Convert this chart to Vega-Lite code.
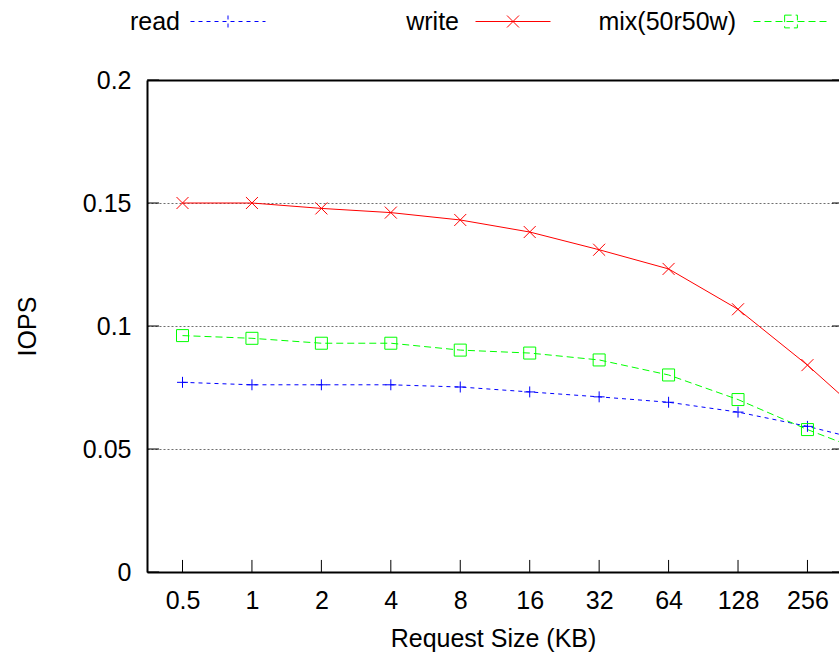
{
  "$schema": "https://vega.github.io/schema/vega-lite/v6.json",
  "width": 692,
  "height": 492,
  "autosize": {"type": "none"},
  "padding": {"left": 147, "top": 80, "right": 0, "bottom": 83},
  "background": "white",
  "config": {
    "font": "Liberation Sans",
    "view": {"stroke": null},
    "legend": {
      "orient": "none",
      "legendY": -96.5,
      "direction": "horizontal",
      "title": null,
      "labelFont": "Liberation Sans",
      "labelFontSize": 25,
      "labelColor": "black",
      "labelAlign": "right",
      "labelBaseline": "middle",
      "labelLimit": 400,
      "symbolSize": 5625,
      "symbolStrokeWidth": 1,
      "symbolFillColor": "transparent",
      "symbolOffset": 0,
      "padding": 0
    }
  },
  "datasets": {
    "iops": [
      {"series": "read", "size": 0.5, "iops": 0.0771},
      {"series": "read", "size": 1, "iops": 0.0761},
      {"series": "read", "size": 2, "iops": 0.0761},
      {"series": "read", "size": 4, "iops": 0.0761},
      {"series": "read", "size": 8, "iops": 0.0752},
      {"series": "read", "size": 16, "iops": 0.0732},
      {"series": "read", "size": 32, "iops": 0.0712},
      {"series": "read", "size": 64, "iops": 0.069},
      {"series": "read", "size": 128, "iops": 0.065},
      {"series": "read", "size": 256, "iops": 0.0592},
      {"series": "read", "size": 512, "iops": 0.0522},
      {"series": "write", "size": 0.5, "iops": 0.15},
      {"series": "write", "size": 1, "iops": 0.15},
      {"series": "write", "size": 2, "iops": 0.1478},
      {"series": "write", "size": 4, "iops": 0.1461},
      {"series": "write", "size": 8, "iops": 0.1431},
      {"series": "write", "size": 16, "iops": 0.1382},
      {"series": "write", "size": 32, "iops": 0.131},
      {"series": "write", "size": 64, "iops": 0.1232},
      {"series": "write", "size": 128, "iops": 0.1068},
      {"series": "write", "size": 256, "iops": 0.0841},
      {"series": "write", "size": 512, "iops": 0.0588},
      {"series": "mix(50r50w)", "size": 0.5, "iops": 0.0961},
      {"series": "mix(50r50w)", "size": 1, "iops": 0.095},
      {"series": "mix(50r50w)", "size": 2, "iops": 0.093},
      {"series": "mix(50r50w)", "size": 4, "iops": 0.093},
      {"series": "mix(50r50w)", "size": 8, "iops": 0.0902},
      {"series": "mix(50r50w)", "size": 16, "iops": 0.089},
      {"series": "mix(50r50w)", "size": 32, "iops": 0.0862},
      {"series": "mix(50r50w)", "size": 64, "iops": 0.0801},
      {"series": "mix(50r50w)", "size": 128, "iops": 0.0701},
      {"series": "mix(50r50w)", "size": 256, "iops": 0.0579},
      {"series": "mix(50r50w)", "size": 512, "iops": 0.0471}
    ],
    "yticks": [
      {"tick": 0}, {"tick": 0.05}, {"tick": 0.1}, {"tick": 0.15}, {"tick": 0.2}
    ]
  },
  "data": {"name": "iops"},
  "layer": [
    {
      "data": {"name": "yticks"},
      "mark": {"type": "rule", "strokeWidth": 1, "color": "black"},
      "encoding": {
        "x": {"datum": 0.3508, "type": "quantitative", "axis": {"labels": false, "ticks": false, "domain": false, "grid": false, "title": null}},
        "x2": {"datum": 0.3957},
        "y": {"field": "tick", "type": "quantitative", "axis": {"labels": false, "ticks": false, "domain": false, "grid": false, "title": null}}
      }
    },
    {
      "data": {"name": "yticks"},
      "mark": {"type": "rule", "strokeWidth": 1, "color": "black"},
      "encoding": {
        "x": {"datum": 327.0, "type": "quantitative", "axis": {"labels": false, "ticks": false, "domain": false, "grid": false, "title": null}},
        "x2": {"datum": 350.7},
        "y": {"field": "tick", "type": "quantitative", "axis": {"labels": false, "ticks": false, "domain": false, "grid": false, "title": null}}
      }
    },
    {
      "transform": [
        {"filter": {"field": "series", "equal": "read"}},
        {"filter": {"field": "size", "lte": 256}}
      ],
      "mark": {"type": "rule", "strokeWidth": 1, "color": "black"},
      "encoding": {
        "x": {"field": "size", "type": "quantitative", "axis": {"labels": false, "ticks": false, "domain": false, "grid": false, "title": null}},
        "y": {"datum": 0, "type": "quantitative", "axis": {"labels": false, "ticks": false, "domain": false, "grid": false, "title": null}},
        "y2": {"datum": 0.0049}
      }
    },
    {
      "transform": [{"filter": {"field": "series", "equal": "read"}}],
      "mark": {"type": "line", "clip": true, "strokeWidth": 1, "strokeDash": [4, 4]},
      "encoding": {
        "x": {
          "field": "size", "type": "quantitative",
          "scale": {"type": "log", "base": 2, "domain": [0.3508, 350.7], "nice": false},
          "axis": {
            "orient": "bottom",
            "values": [0.5, 1, 2, 4, 8, 16, 32, 64, 128, 256],
            "format": "~g",
            "labelFont": "Liberation Sans",
            "labelFontSize": 25,
            "labelColor": "black",
            "labelFlush": false,
            "labelOverlap": false,
            "labelBound": false,
            "labelBaseline": "alphabetic",
            "labelPadding": 36.5,
            "ticks": false,
            "domainColor": "black",
            "domainWidth": 2,
            "grid": false,
            "title": "Request Size (KB)",
            "titleFont": "Liberation Sans",
            "titleFontSize": 25,
            "titleFontWeight": "normal",
            "titleColor": "black",
            "titleBaseline": "alphabetic",
            "titleY": 74
          }
        },
        "y": {
          "field": "iops", "type": "quantitative",
          "scale": {"domain": [0, 0.2], "nice": false},
          "axis": {
            "orient": "left",
            "values": [0, 0.05, 0.1, 0.15, 0.2],
            "format": "~g",
            "labelFont": "Liberation Sans",
            "labelFontSize": 25,
            "labelColor": "black",
            "labelPadding": 16,
            "labelFlush": false,
            "labelOverlap": false,
            "labelBaseline": "middle",
            "ticks": false,
            "domainColor": "black",
            "domainWidth": 2,
            "grid": true,
            "gridColor": "#6e6e6e",
            "gridDash": [2, 2],
            "gridWidth": 1,
            "title": "IOPS",
            "titleFont": "Liberation Sans",
            "titleFontSize": 25,
            "titleFontWeight": "normal",
            "titleColor": "black",
            "titleAngle": 270,
            "titleBaseline": "alphabetic",
            "titleAlign": "center",
            "titleX": -112,
            "titleY": 246
          }
        },
        "color": {
          "field": "series", "type": "nominal",
          "scale": {"domain": ["read", "write", "mix(50r50w)"], "range": ["#0000ff", "#ff0000", "#00ff00"]},
          "legend": {
            "values": ["read"],
            "legendX": 43,
            "labelOffset": -86,
            "symbolType": "M-1,0H1M0,-0.16V0.16",
            "symbolDash": [4, 4]
          }
        }
      }
    },
    {
      "transform": [{"filter": {"field": "series", "equal": "write"}}],
      "mark": {"type": "line", "clip": true, "strokeWidth": 1},
      "encoding": {
        "x": {"field": "size", "type": "quantitative", "axis": null},
        "y": {"field": "iops", "type": "quantitative", "axis": null},
        "color": {
          "field": "series", "type": "nominal",
          "legend": {
            "values": ["write"],
            "legendX": 328,
            "labelOffset": -92,
            "symbolType": "M-1,0H1M-0.16,-0.16L0.16,0.16M-0.16,0.16L0.16,-0.16"
          }
        }
      }
    },
    {
      "transform": [{"filter": {"field": "series", "equal": "mix(50r50w)"}}],
      "mark": {"type": "line", "clip": true, "strokeWidth": 1, "strokeDash": [7, 4]},
      "encoding": {
        "x": {"field": "size", "type": "quantitative", "axis": null},
        "y": {"field": "iops", "type": "quantitative", "axis": null},
        "color": {
          "field": "series", "type": "nominal",
          "legend": {
            "values": ["mix(50r50w)"],
            "legendX": 606,
            "labelOffset": -93,
            "symbolType": "M-1,0H1M-0.17,-0.17H0.17V0.17H-0.17Z",
            "symbolDash": [7, 4]
          }
        }
      }
    },
    {
      "transform": [{"filter": {"field": "series", "equal": "read"}}],
      "mark": {"type": "point", "clip": true, "filled": false, "size": 120, "strokeWidth": 1, "opacity": 1, "shape": "M-1,0H1M0,-1V1"},
      "encoding": {
        "x": {
          "field": "size", "type": "quantitative",
          "axis": {"orient": "top", "labels": false, "ticks": false, "domain": true, "domainColor": "black", "domainWidth": 2, "grid": false, "title": null}
        },
        "y": {"field": "iops", "type": "quantitative", "axis": null},
        "color": {"field": "series", "type": "nominal", "legend": null}
      }
    },
    {
      "transform": [{"filter": {"field": "series", "equal": "write"}}],
      "mark": {"type": "point", "clip": true, "filled": false, "size": 144, "strokeWidth": 1, "opacity": 1, "shape": "M-1,-1L1,1M-1,1L1,-1"},
      "encoding": {
        "x": {"field": "size", "type": "quantitative", "axis": null},
        "y": {"field": "iops", "type": "quantitative", "axis": null},
        "color": {"field": "series", "type": "nominal", "legend": null}
      }
    },
    {
      "transform": [{"filter": {"field": "series", "equal": "mix(50r50w)"}}],
      "mark": {"type": "point", "clip": true, "filled": false, "size": 144, "strokeWidth": 1, "opacity": 1, "shape": "M-1,-1H1V1H-1Z"},
      "encoding": {
        "x": {"field": "size", "type": "quantitative", "axis": null},
        "y": {"field": "iops", "type": "quantitative", "axis": null},
        "color": {"field": "series", "type": "nominal", "legend": null}
      }
    }
  ],
  "resolve": {"axis": {"x": "independent", "y": "independent"}, "legend": {"color": "independent"}}
}
